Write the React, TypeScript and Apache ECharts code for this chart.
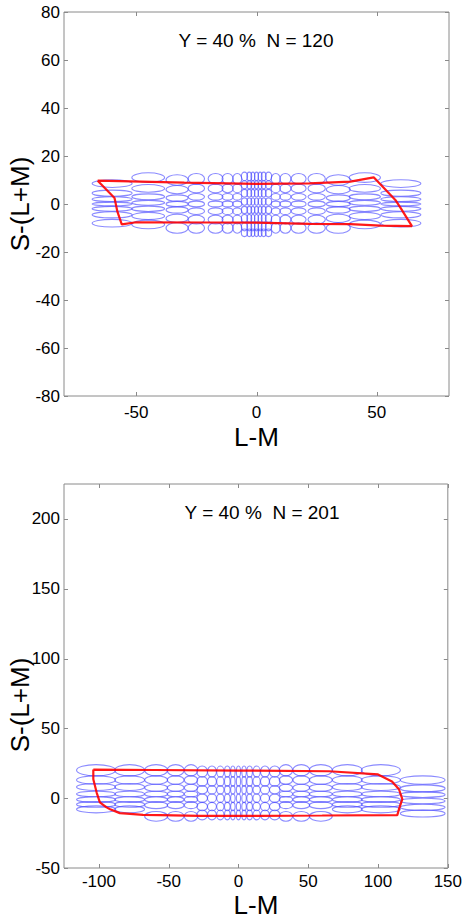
import React, { useEffect, useRef } from "react";
import * as echarts from "echarts";

const FONT = "'Liberation Sans', Arial, Helvetica, sans-serif";

// ---------- top panel ----------
const topTitle = "Y = 40 %  N = 120";
const topXTicks = [-50, 0, 50];
const topYTicks = [-80, -60, -40, -20, 0, 20, 40, 60, 80];
// [x centre, x radius, row group]
const topColumns: [number, number, string][] = [
  [-60, 8.3, "outer"], [-45, 6.8, "second"], [-33, 4.6, "third"], [-25, 3.4, "mid"],
  [-17, 3.1, "mid"], [-12, 2.3, "mid"], [-8, 1.9, "mid"], [-5, 1.3, "inner"],
  [-3, 1.0, "inner"], [-1.5, 0.8, "inner"], [0, 0.8, "inner"], [1.5, 0.8, "inner"],
  [3, 1.0, "inner"], [5, 1.3, "inner"], [8, 1.9, "mid"], [12, 2.3, "mid"],
  [17.5, 3.1, "mid"], [25, 3.6, "mid"], [34, 5.0, "third"], [45, 6.5, "second"],
  [60, 8.3, "outer"],
];
// [y centre, y radius]
const topRowsOuter: [number, number][] = [[8.5, 1.6], [4.5, 1.3], [2, 1.0], [0, 0.8], [-2, 1.0], [-4.5, 1.3], [-8, 1.6]];
const topRowsSecond: [number, number][] = [[11, 2], [6.5, 1.6], [3, 1.2], [0.5, 1], [-2, 1.1], [-5, 1.5], [-8.5, 1.8]];
const topRowsThird: [number, number][] = [[10, 2.2], [6, 1.7], [2.5, 1.3], [0, 1.1], [-2.5, 1.3], [-6, 1.7], [-10, 2.2]];
const topRowsMid: [number, number][] = [[10.5, 2.2], [6.5, 1.8], [3, 1.4], [0, 1.2], [-3, 1.4], [-6.5, 1.8], [-10, 2.2]];
const topRowsInner: [number, number][] = [[11.5, 1.8], [8, 1.7], [4.5, 1.6], [1, 1.5], [-2.5, 1.5], [-6, 1.6], [-9.5, 1.7], [-12, 1.6]];
const topBoundary: [number, number][] = [
  [-66, 9.7], [-59, 2.5], [-57.8, -3.2], [-56, -8.5], [-50, -7.6], [-20, -7.7], [0, -7.8],
  [22, -8.3], [39, -8.4], [51.5, -9], [64.6, -9.2], [60, -1.8], [57.7, 1.7], [48.7, 11.1],
  [39, 9.3], [22, 8.6], [0, 8.4], [-30, 8.9], [-66, 9.7],
];

// ---------- bottom panel ----------
const bottomTitle = "Y = 40 %  N = 201";
const bottomXTicks = [-100, -50, 0, 50, 100, 150];
const bottomYTicks = [-50, 0, 50, 100, 150, 200];
const bottomColumns: [number, number, string][] = [
  [-102, 14, "outer"], [-78, 10.7, "outer"], [-59, 8.2, "mid"], [-45, 6, "mid"],
  [-34, 4.8, "mid"], [-26, 3.8, "inner"], [-19, 3.2, "inner"], [-13, 2.6, "inner"],
  [-8, 2.0, "inner"], [-4, 1.6, "inner"], [0, 1.5, "inner"], [4, 1.6, "inner"],
  [8, 2.0, "inner"], [13, 2.6, "inner"], [19, 3.2, "inner"], [26, 3.8, "inner"],
  [34, 4.8, "mid"], [45, 6, "mid"], [59, 8.2, "mid"], [78, 10.7, "outer"],
  [102, 14, "outer"], [132, 16, "edge"],
];
const bottomRowsOuter: [number, number][] = [[20, 4], [13, 3], [8, 2.5], [3, 2], [-1, 2], [-4.5, 2], [-8, 2.5]];
const bottomRowsMid: [number, number][] = [[20, 4], [13, 3], [7.5, 2.5], [3, 2], [-1, 2], [-5, 2.5], [-13, 3.5]];
const bottomRowsInner: [number, number][] = [[19, 4], [12, 3.5], [6, 3], [0, 3], [-6, 3], [-12, 3.5]];
const bottomRowsEdge: [number, number][] = [[13, 3], [7, 2.5], [2.5, 2], [-2, 2], [-6.5, 2.2], [-11, 2.5]];
const bottomBoundary: [number, number][] = [
  [-104, 20.5], [-104, 13.6], [-101.6, 4], [-99.3, -3], [-94.5, -6.6], [-92, -7.9],
  [-85, -10.7], [-80, -11], [-68.4, -11.9], [-56, -12.1], [-28, -12.6], [15, -12.6],
  [60, -12.4], [113.8, -12.1], [115, -7.9], [117.4, -0.7], [115, 6.4], [110, 12],
  [100, 17], [65, 19.3], [0, 19.8], [-60, 20.2], [-104, 20.5],
];

const topGroups: Record<string, [number, number][]> = {
  outer: topRowsOuter, second: topRowsSecond, third: topRowsThird, mid: topRowsMid, inner: topRowsInner,
};
const bottomGroups: Record<string, [number, number][]> = {
  outer: bottomRowsOuter, mid: bottomRowsMid, inner: bottomRowsInner, edge: bottomRowsEdge,
};

function buildEllipses(cols: [number, number, string][], groups: Record<string, [number, number][]>) {
  const out: number[][] = [];
  cols.forEach(([x, rx, g]) => {
    groups[g].forEach(([y, ry]) => out.push([x, y, rx, ry]));
  });
  return out;
}

function ellipseSeries(idx: number, data: number[][]) {
  return {
    type: "custom",
    xAxisIndex: idx,
    yAxisIndex: idx,
    silent: true,
    clip: true,
    z: 2,
    data,
    renderItem: (params: any, api: any) => {
      const c = api.coord([api.value(0), api.value(1)]);
      const s = api.size([api.value(2), api.value(3)]);
      return {
        type: "ellipse",
        shape: { cx: c[0], cy: c[1], rx: s[0], ry: s[1] },
        style: { fill: "none", stroke: "rgba(60,60,255,0.6)", lineWidth: 1.1 },
      };
    },
  };
}

function tickSeries(idx: number, xt: number[], yt: number[]) {
  const data = [...xt.map((v) => [v, 0, 0]), ...yt.map((v) => [0, v, 1])];
  return {
    type: "custom",
    xAxisIndex: idx,
    yAxisIndex: idx,
    silent: true,
    clip: false,
    z: 5,
    data,
    renderItem: (params: any, api: any) => {
      const cs = params.coordSys;
      const L = 4;
      const st = { stroke: "#8a8a8a", lineWidth: 1 };
      if (api.value(2) === 0) {
        const px = Math.round(api.coord([api.value(0), 0])[0]) + 0.5;
        return {
          type: "group",
          children: [
            { type: "line", shape: { x1: px, y1: cs.y + cs.height, x2: px, y2: cs.y + cs.height - L }, style: st },
            { type: "line", shape: { x1: px, y1: cs.y, x2: px, y2: cs.y + L }, style: st },
          ],
        };
      }
      const py = Math.round(api.coord([0, api.value(1)])[1]) + 0.5;
      return {
        type: "group",
        children: [
          { type: "line", shape: { x1: cs.x, y1: py, x2: cs.x + L, y2: py }, style: st },
          { type: "line", shape: { x1: cs.x + cs.width, y1: py, x2: cs.x + cs.width - L, y2: py }, style: st },
        ],
      };
    },
  };
}

function boundarySeries(idx: number, data: [number, number][]) {
  return {
    type: "line",
    xAxisIndex: idx,
    yAxisIndex: idx,
    data,
    symbol: "none",
    silent: true,
    z: 4,
    lineStyle: { color: "rgba(255,0,0,0.9)", width: 2.2 },
  };
}

const every50 = (v: number) => (Math.abs(v % 50) < 1e-9 ? String(v) : "");

export default function App() {
  const ref = useRef<HTMLDivElement>(null);
  useEffect(() => {
    if (!ref.current) return;
    const chart = echarts.init(ref.current, undefined, { renderer: "svg" });
    const labelStyle = { color: "#000", fontSize: 17, fontFamily: FONT };
    const nameStyle = { color: "#000", fontSize: 26, fontFamily: FONT };
    const commonAxis = {
      type: "value",
      axisLine: { show: false },
      axisTick: { show: false },
      splitLine: { show: false },
    };
    chart.setOption({
      animation: false,
      backgroundColor: "#fff",
      grid: [
        { left: 64, top: 12, width: 385, height: 384, show: true, borderColor: "#8a8a8a", borderWidth: 1, backgroundColor: "transparent" },
        { left: 64, top: 484, width: 385, height: 385, show: true, borderColor: "#8a8a8a", borderWidth: 1, backgroundColor: "transparent" },
      ],
      xAxis: [
        {
          ...commonAxis, gridIndex: 0, min: -80, max: 80, interval: 10,
          axisLabel: { ...labelStyle, margin: 8, formatter: every50 },
          name: "L-M", nameLocation: "middle", nameGap: 28, nameTextStyle: nameStyle,
        },
        {
          ...commonAxis, gridIndex: 1, min: -125, max: 150, interval: 25,
          axisLabel: { ...labelStyle, margin: 5, formatter: every50 },
          name: "L-M", nameLocation: "middle", nameGap: 24, nameTextStyle: nameStyle,
        },
      ],
      yAxis: [
        {
          ...commonAxis, gridIndex: 0, min: -80, max: 80, interval: 20,
          axisLabel: { ...labelStyle, margin: 4 },
        },
        {
          ...commonAxis, gridIndex: 1, min: -50, max: 225, interval: 25,
          axisLabel: { ...labelStyle, margin: 4, formatter: every50 },
        },
      ],
      graphic: [
        { type: "text", x: 256, y: 40, style: { text: topTitle, fontSize: 19, fontFamily: FONT, fill: "#000", textAlign: "center", textVerticalAlign: "middle" } },
        { type: "text", x: 262, y: 512, style: { text: bottomTitle, fontSize: 19, fontFamily: FONT, fill: "#000", textAlign: "center", textVerticalAlign: "middle" } },
        { type: "text", x: 20, y: 204, rotation: Math.PI / 2, style: { text: "S-(L+M)", fontSize: 26, fontFamily: FONT, fill: "#000", textAlign: "center", textVerticalAlign: "middle" } },
        { type: "text", x: 20, y: 705, rotation: Math.PI / 2, style: { text: "S-(L+M)", fontSize: 26, fontFamily: FONT, fill: "#000", textAlign: "center", textVerticalAlign: "middle" } },
      ],
      series: [
        ellipseSeries(0, buildEllipses(topColumns, topGroups)),
        boundarySeries(0, topBoundary),
        tickSeries(0, topXTicks, topYTicks),
        ellipseSeries(1, buildEllipses(bottomColumns, bottomGroups)),
        boundarySeries(1, bottomBoundary),
        tickSeries(1, bottomXTicks, bottomYTicks),
      ],
    });
    return () => chart.dispose();
  }, []);
  return (
    <div
      ref={ref}
      style={{ position: "fixed", left: 0, top: 0, width: 465, height: 919, background: "#fff" }}
    />
  );
}
